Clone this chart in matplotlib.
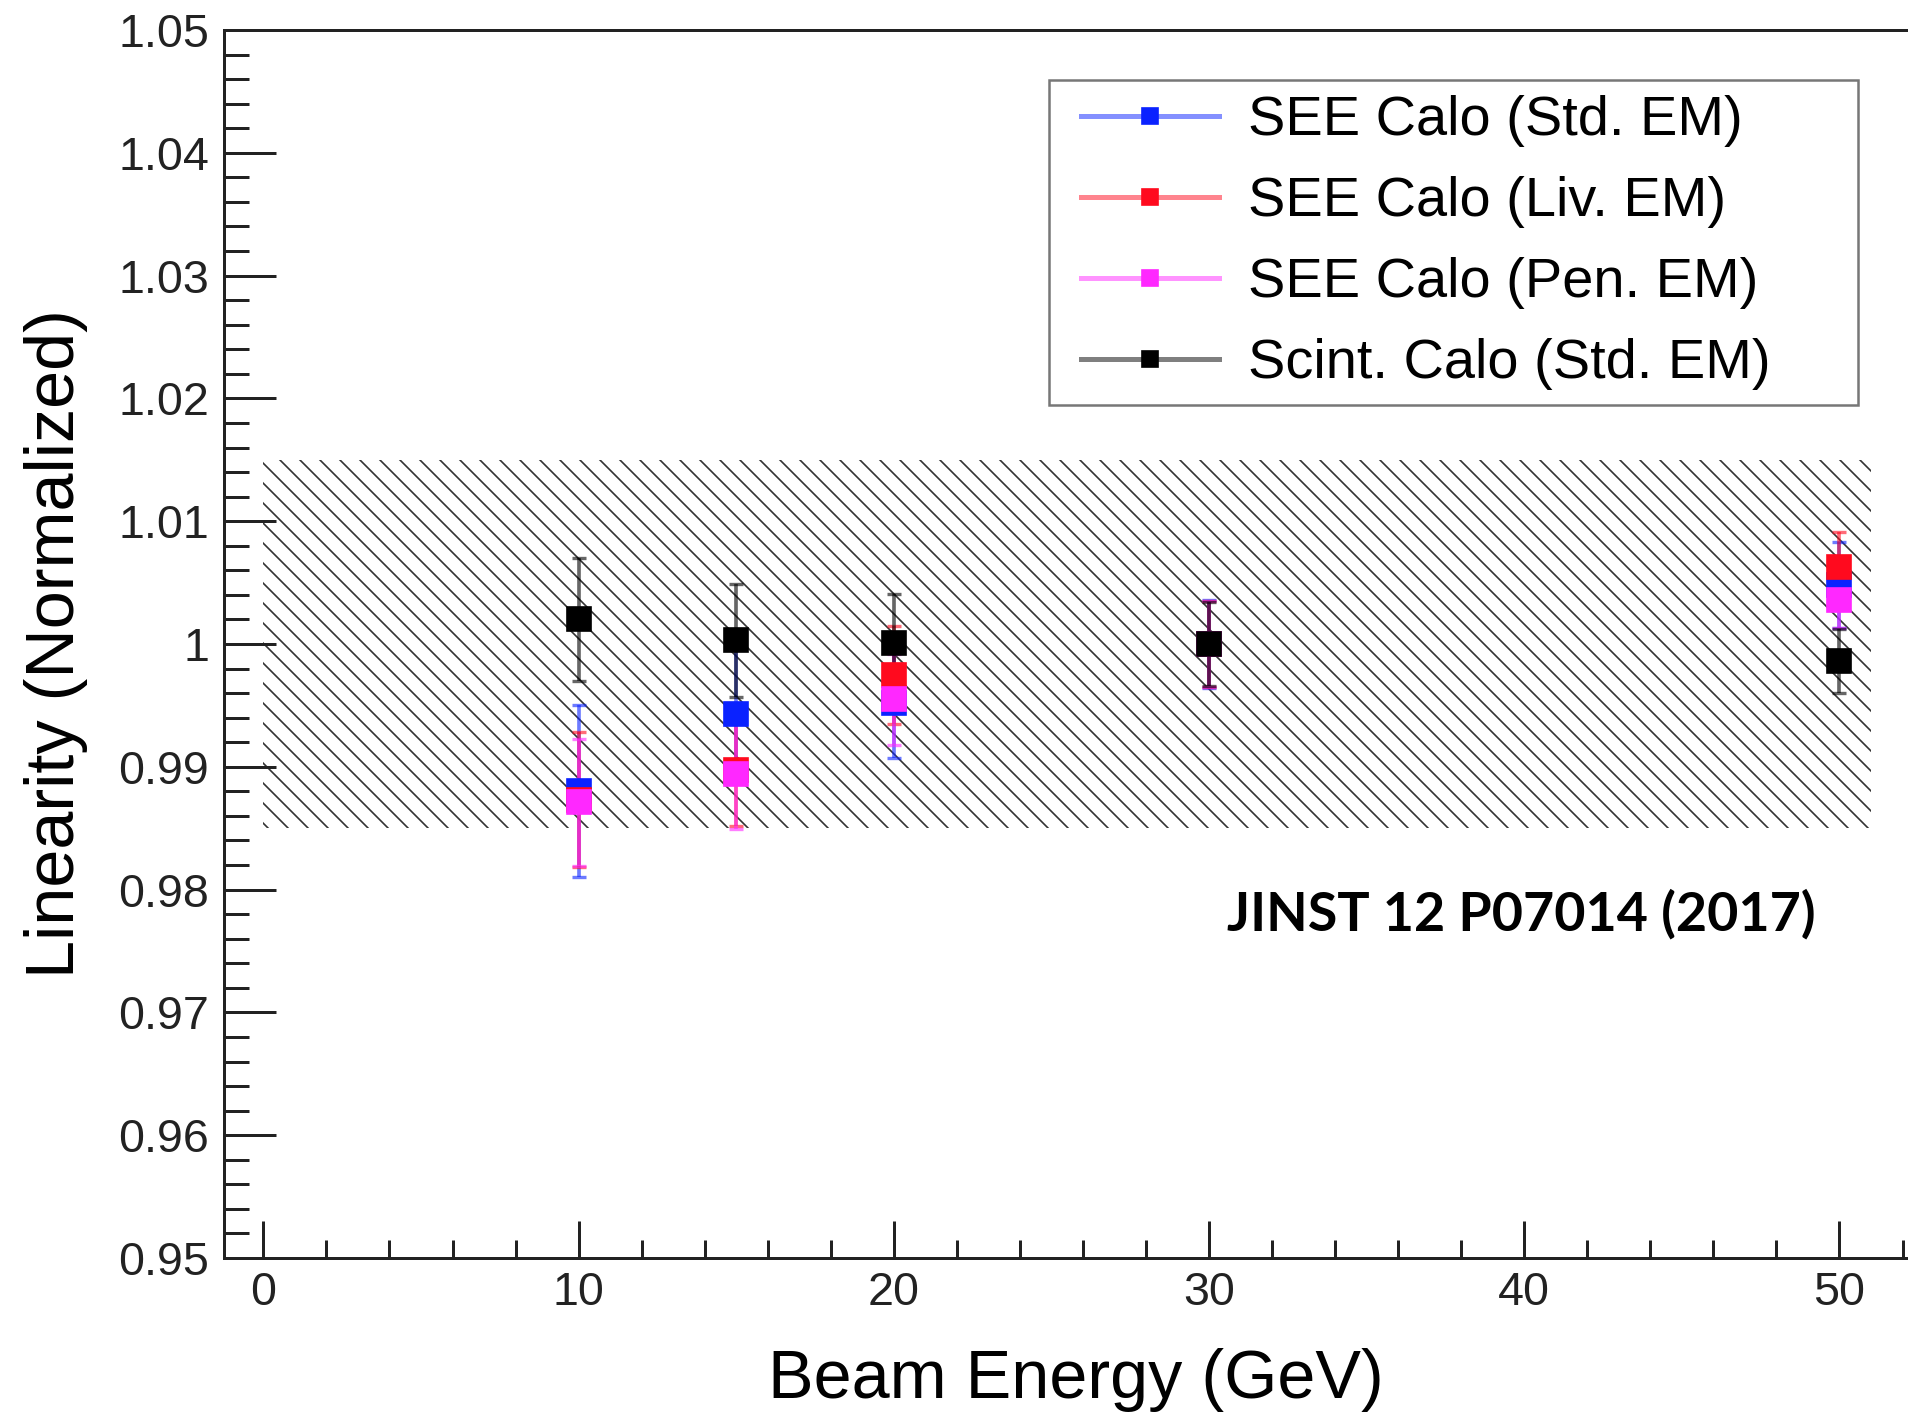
import numpy as np
import matplotlib
matplotlib.use("Agg")
import matplotlib.pyplot as plt
from matplotlib.lines import Line2D
from matplotlib.legend_handler import HandlerLine2D
from matplotlib.ticker import MultipleLocator, FuncFormatter
from matplotlib.colors import to_rgba

plt.rcParams['font.family'] = ['Liberation Sans', 'DejaVu Sans']
plt.rcParams['hatch.linewidth'] = 1.0

# data
energy = [10, 15, 20, 30, 50]

see_std = [0.9880, 0.9943, 0.9952, 1.0000, 1.0048]
see_std_err = [0.0070, 0.0055, 0.0045, 0.0036, 0.0035]

see_liv = [0.9873, 0.9897, 0.9975, 1.0000, 1.0063]
see_liv_err = [0.0055, 0.0045, 0.0040, 0.0035, 0.0028]

see_pen = [0.9871, 0.9894, 0.9955, 1.0000, 1.0036]
see_pen_err = [0.0052, 0.0045, 0.0037, 0.0035, 0.0023]

scint_std = [1.0020, 1.0003, 1.0001, 1.0000, 0.9986]
scint_std_err = [0.0050, 0.0046, 0.0040, 0.0034, 0.0026]

labels = ["SEE Calo (Std. EM)", "SEE Calo (Liv. EM)", "SEE Calo (Pen. EM)", "Scint. Calo (Std. EM)"]
colors = ["#0a22ff", "#ff0a1e", "#ff28ff", "#000000"]

# +-1.5% band
band_x = [0, 51]
band_lo = 0.985
band_hi = 1.015

DPI = 120
fig = plt.figure(figsize=(1908 / DPI, 1416 / DPI), dpi=DPI)
# axes run past the right edge, as in the cropped original
ax = fig.add_axes([0.1174, 0.1116, 0.9293, 0.8672])

# '\\' twice -> about 20 px between the diagonals at this dpi
ax.fill_between(band_x, band_lo, band_hi, facecolor='none', edgecolor='#333333',
                linewidth=0, hatch='\\\\', zorder=1)

series = [(see_std, see_std_err), (see_liv, see_liv_err), (see_pen, see_pen_err), (scint_std, scint_std_err)]
for (vals, errs), col in zip(series, colors):
    ax.errorbar(energy, vals, yerr=errs, fmt='s', ls='none', color=col, ecolor=to_rgba(col, 0.6),
                markersize=14, elinewidth=2.2, capsize=4, capthick=2, zorder=3)

ax.set_xlim(-1.25, 55)
ax.set_ylim(0.95, 1.05)
ax.xaxis.set_major_locator(MultipleLocator(10))
ax.xaxis.set_minor_locator(MultipleLocator(2))
ax.yaxis.set_major_locator(MultipleLocator(0.01))
ax.yaxis.set_minor_locator(MultipleLocator(0.002))
ax.yaxis.set_major_formatter(FuncFormatter(lambda v, p: '1' if abs(v - 1) < 1e-9 else '%.2f' % v))

ax.tick_params(axis='both', which='both', direction='in', top=False, right=False, colors='#222222')
ax.tick_params(axis='y', which='major', length=31, width=1.8, labelsize=28, pad=9)
ax.tick_params(axis='y', which='minor', length=15, width=1.8)
ax.tick_params(axis='x', which='major', length=22, width=1.8, labelsize=28, pad=8)
ax.tick_params(axis='x', which='minor', length=11, width=1.8)
for s in ax.spines.values():
    s.set_linewidth(1.8)
    s.set_color('#222222')

ax.set_xlabel("Beam Energy (GeV)", fontsize=41)
ax.xaxis.set_label_coords(0.4805, -0.073)
ax.set_ylabel("Linearity (Normalized)", fontsize=41)
ax.yaxis.set_label_coords(-0.0767, 0.5)

ax.text(0.5657, 0.2663, "JINST 12 P07014 (2017)", transform=ax.transAxes,
        fontsize=32.3, fontweight='bold', family=['Lato', 'DejaVu Sans'], ha='left', va='baseline')

handles = []
for c in colors:
    handles.append(Line2D([0], [0], color=to_rgba(c, 0.5), lw=3, marker='s', markersize=10,
                          markerfacecolor=c, markeredgecolor=c))
# xpad moves the legend line in from the frame
leg = ax.legend(handles, labels, loc='upper left', bbox_to_anchor=(0.4653, 0.697, 0.4563, 0.2623),
                mode='expand', fontsize=33.5, frameon=True, fancybox=False, borderaxespad=0,
                handlelength=2.78, handletextpad=0.52, borderpad=0.27, labelspacing=0.52,
                handler_map={Line2D: HandlerLine2D(xpad=0.30)})
leg.get_frame().set_edgecolor('#555555')
leg.get_frame().set_linewidth(1.5)

fig.savefig("out.png", dpi=DPI)
